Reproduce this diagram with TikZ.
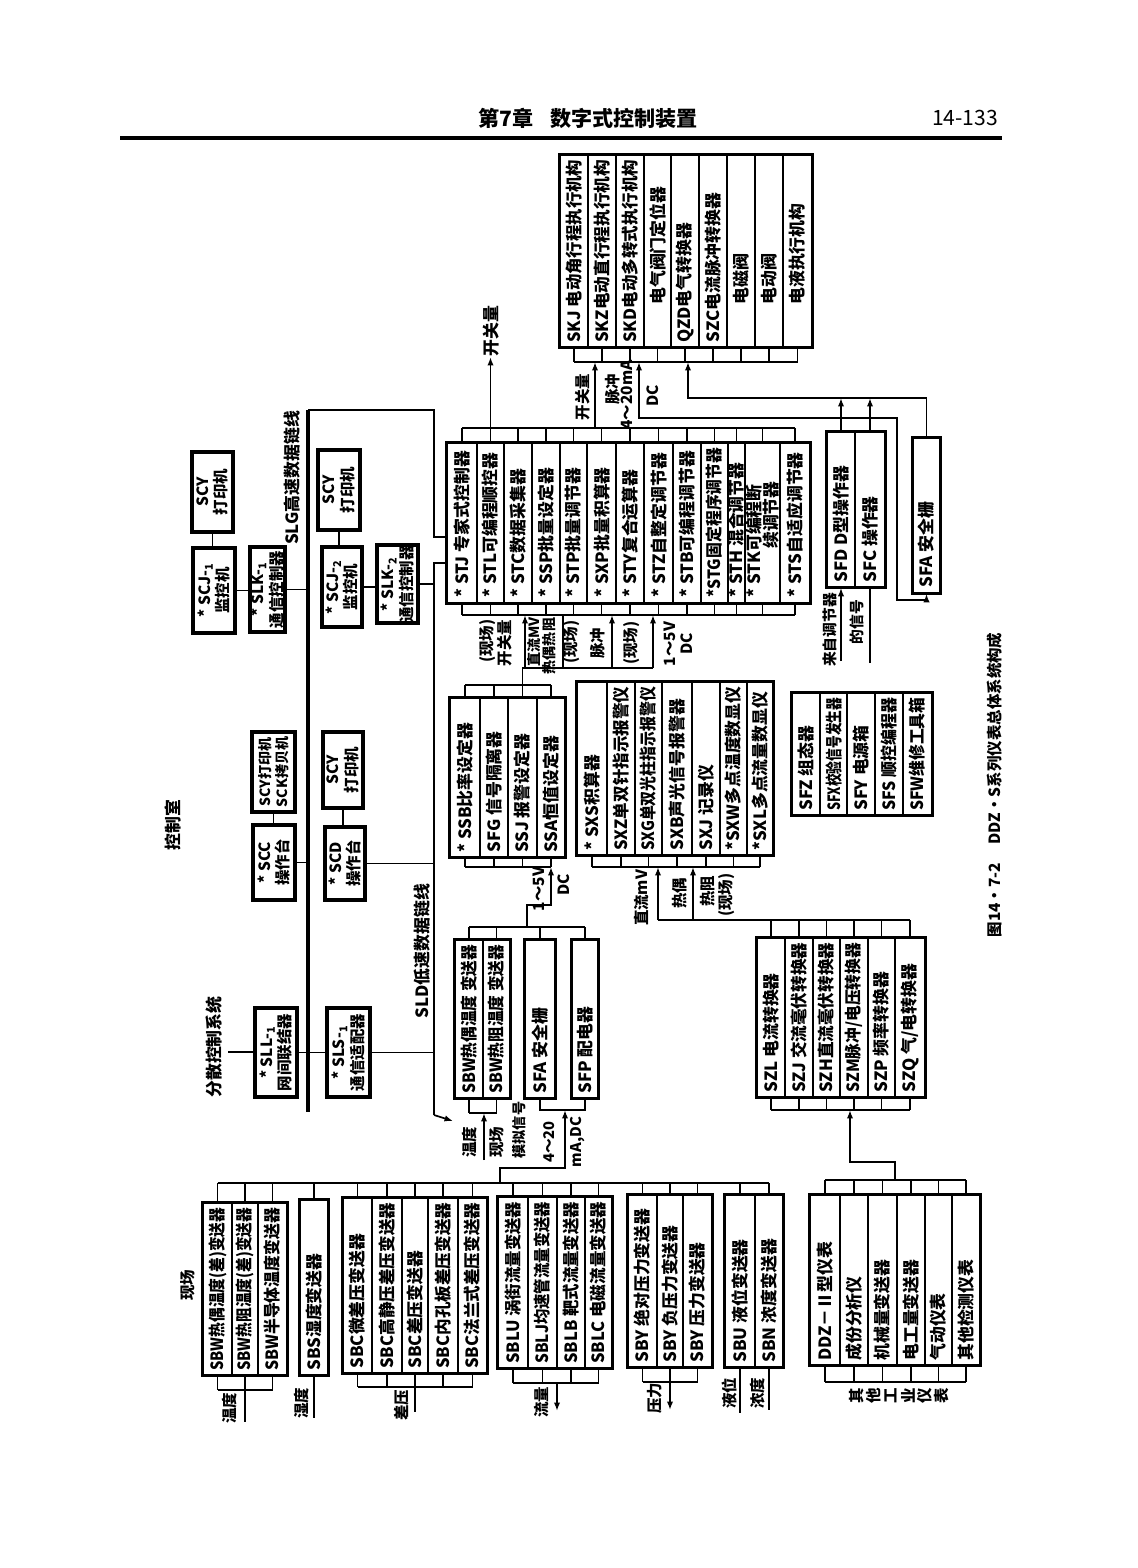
\documentclass[tikz,border=0pt]{standalone}
\usepackage{fontspec}
\setmainfont{Noto Sans CJK SC}
\usepackage{graphicx}
\usetikzlibrary{arrows.meta,fit}
\newsavebox\fitbox
\newlength\fitlen
\newcommand\fitt[2]{\fitlen=0.25mm\relax\multiply\fitlen by \numexpr#1\relax\sbox\fitbox{#2}\ifdim\wd\fitbox>\fitlen\resizebox{\fitlen}{\height}{#2}\else\usebox\fitbox\fi}
\newcommand\colx[7]{%
  \node[colbox,fit={(#2,#4) (#3,#5)}] (#1) {};
  \node[coltext] (#1-t) at ({(#2+#3)/2},#6) {\fitt{#6-#4-5}{#7}};}
\newcommand\twobox[6]{%
  \node[tbox,fit={(#2,#3) (#4,#5)}] (#1) {};
  \node[tbtext] (#1-t) at (#1.center) {#6};}
\newcommand\ticks[3]{\foreach \n in {#1}{\draw[ln] (\n.#2) -- (\n.#2 |- #3);}}
\tikzset{
  ln/.style={line width=1.2pt},
  arr/.style={-{Latex[length=6pt,width=4.5pt]}},
  colbox/.style={draw,line width=1.2pt,inner sep=0pt,rectangle},
  grp/.style={draw,line width=2.2pt,inner sep=0pt,rectangle},
  tbox/.style={draw,line width=2.2pt,inner sep=0pt,rectangle},
  coltext/.style={rotate=90,anchor=west,inner sep=0pt,font=\fontsize{12}{13}\selectfont\bfseries},
  tbtext/.style={rotate=90,align=center,inner sep=0pt,font=\fontsize{11}{13}\selectfont\bfseries},
  lab/.style={rotate=90,inner sep=0pt,font=\fontsize{#1}{#1}\selectfont\bfseries},
  lab/.default=11,
  slg/.style={line width=2.6pt},
  sld/.style={line width=1.9pt}
}
\begin{document}
\begin{tikzpicture}[x=0.25mm,y=-0.25mm]
\useasboundingbox (0,0) rectangle (1138,1568);
\fill[white] (0,0) rectangle (1138,1568);
% header
\node[font=\fontsize{15}{15}\selectfont\bfseries] (hd) at (588,118) {第7章\hspace{0.8em}数字式控制装置};
\node[font=\fontsize{15}{15}\selectfont] (pg) at (965,118) {14-133};
\draw[line width=2.2pt] (120,138) -- (1002,138);
% ---------- actuators ----------
\colx{a1}{560}{588}{155}{347}{343}{SKJ 电动角行程执行机构}
\colx{a2}{588}{616}{155}{347}{343}{SKZ电动直行程执行机构}
\colx{a3}{616}{644}{155}{347}{343}{SKD电动多转式执行机构}
\colx{a4}{644}{671}{155}{347}{305}{电气阀门定位器}
\colx{a5}{671}{699}{155}{347}{343}{QZD电气转换器}
\colx{a6}{699}{727}{155}{347}{343}{SZC电流脉冲转换器}
\colx{a7}{727}{755}{155}{347}{305}{电磁阀}
\colx{a8}{755}{783}{155}{347}{305}{电动阀}
\colx{a9}{783}{812}{155}{347}{305}{电液执行机构}
\node[grp,fit=(a1)(a9)] (gA) {};
\coordinate (actc) at (0,362);
\ticks{a1,a2,a3,a4,a5,a6,a7,a8,a9}{south}{actc}
\draw[ln] (a1.south |- actc) -- (a9.south |- actc);
% ---------- ST controllers ----------
\colx{st1}{447}{477}{443}{603}{598}{* STJ 专家式控制器}
\colx{st2}{477}{504}{443}{603}{598}{* STL可编程顺控器}
\colx{st3}{504}{532}{443}{603}{598}{* STC数据采集器}
\colx{st4}{532}{560}{443}{603}{598}{* SSP批量设定器}
\colx{st5}{560}{587}{443}{603}{598}{* STP批量调节器}
\colx{st6}{587}{616}{443}{603}{598}{* SXP批量积算器}
\colx{st7}{616}{644}{443}{603}{598}{* STY复合运算器}
\colx{st8}{644}{673}{443}{603}{598}{* STZ自整定调节器}
\colx{st9}{673}{701}{443}{603}{598}{* STB可编程调节器}
\colx{st10}{701}{728}{443}{603}{598}{*STG固定程序调节器}
\colx{st11}{728}{745}{443}{603}{598}{* STH 混合调节器}
\node[colbox,fit={(745,443) (780,603)}] (st12) {};
\node[coltext] (st12-t) at (754,598) {\fitt{598-443-5}{* STK可编程断}};
\node[coltext,anchor=east] (st12-u) at (771,481) {续调节器};
\colx{st13}{780}{810}{443}{603}{598}{* STS自适应调节器}
\node[grp,fit=(st1)(st13)] (gST) {};
\coordinate (sttop) at (0,428);
\coordinate (stbot) at (0,615);
\ticks{st1,st2,st3,st4,st5,st6,st7,st8,st9,st10,st11,st12,st13}{north}{sttop}
\ticks{st1,st2,st3,st4,st5,st6,st7,st8,st9,st10,st11,st12,st13}{south}{stbot}
\draw[ln] (st1.north |- sttop) -- (st13.north |- sttop);
\draw[ln] (st1.south |- stbot) -- (st13.south |- stbot);
% ST outputs
\draw[ln,arr] (st2.north |- sttop) -- (st2.north |- 0,357);
\node[lab=12] (kg0) at (491,331) {开关量};
\draw[ln,arr] (595,428) -- (595,362);
\node[lab] (kg1) at (583,397) {开关量};
\node[lab] (mc1) at (613,389) {脉冲};
\node[lab] (ma1) at (627,395) {4～20mA};
\node[lab] (dc1) at (653,396) {DC};
% SFD / SFC / SFA
\colx{sfd}{827}{855}{432}{587}{583}{SFD D型操作器}
\colx{sfc}{855}{885}{432}{587}{583}{SFC 操作器}
\node[grp,fit=(sfd)(sfc)] (gSFD) {};
\colx{sfar}{913}{940}{438}{593}{588}{SFA 安全栅}
\node[grp,fit=(sfar)] (gSFA) {};
\coordinate (p600) at (897,600);
\draw[ln,{Latex[length=6pt,width=4.5pt]}-{Latex[length=6pt,width=4.5pt]}] (sfar.south) -- (sfar.south |- p600) -- (p600) -- (897,418) -- (639,418) -- (639,362);
\draw[ln,arr] (sfar.north) -- (sfar.north |- 0,398) -- (688,398) -- (688,362);
\draw[ln,arr] (sfd.north) -- (sfd.north |- 0,398);
\draw[ln,arr] (sfc.north) -- (sfc.north |- 0,398);
\draw[ln,arr] (sfd.south |- 0,661) -- (sfd.south);
\draw[ln] (sfc.south |- 0,663) -- (sfc.south);
\node[lab=10.5] (lz1) at (830,630) {来自调节器};
\node[lab=10.5] (lz2) at (857,622) {的信号};
% SFZ group
\colx{sf1}{792}{820}{693}{815}{811}{SFZ 组态器}
\colx{sf2}{820}{847}{693}{815}{811}{SFX校验信号发生器}
\colx{sf3}{847}{875}{693}{815}{811}{SFY 电源箱}
\colx{sf4}{875}{903}{693}{815}{811}{SFS 顺控编程器}
\colx{sf5}{903}{932}{693}{815}{811}{SFW维修工具箱}
\node[grp,fit=(sf1)(sf5)] (gSFZ) {};
% caption
\node[rotate=90,font=\fontsize{11}{11}\selectfont\bfseries] (cap) at (995,785) {图14·7-2\hspace{1.2em}DDZ·S系列仪表总体系统构成};
% SSB group
\colx{ss1}{450}{480}{698}{857}{853}{* SSB比率设定器}
\colx{ss2}{480}{508}{698}{857}{853}{SFG 信号隔离器}
\colx{ss3}{508}{537}{698}{857}{853}{SSJ 报警设定器}
\colx{ss4}{537}{565}{698}{857}{853}{SSA恒值设定器}
\node[grp,fit=(ss1)(ss4)] (gSSB) {};
\coordinate (ssbtop) at (0,685);
\coordinate (ssbbot) at (0,867);
\ticks{ss1,ss2,ss3,ss4}{north}{ssbtop}
\ticks{ss1,ss2,ss3,ss4}{south}{ssbbot}
\draw[ln] (ss1.north |- ssbtop) -- (ss4.north |- ssbtop);
\draw[ln] (ss1.south |- ssbbot) -- (ss4.south |- ssbbot);
% SXS group
\colx{sx1}{577}{607}{682}{855}{851}{* SXS积算器}
\colx{sx2}{607}{635}{682}{855}{851}{SXZ单双针指示报警仪}
\colx{sx3}{635}{662}{682}{855}{851}{SXG单双光柱指示报警仪}
\colx{sx4}{662}{692}{682}{855}{851}{SXB声光信号报警器}
\colx{sx5}{692}{720}{682}{855}{851}{SXJ 记录仪}
\colx{sx6}{720}{747}{682}{855}{851}{*SXW多点温度数显仪}
\colx{sx7}{747}{773}{682}{855}{851}{*SXL多点流量数显仪}
\node[grp,fit=(sx1)(sx7)] (gSXS) {};
\coordinate (sxsbot) at (0,867);
\ticks{sx1,sx2,sx3,sx4,sx5,sx6,sx7}{south}{sxsbot}
\draw[ln] (sx1.south |- sxsbot) -- (sx7.south |- sxsbot);
% inputs below ST
\draw[ln] (ss3.north |- ssbtop) -- (ss3.north |- 0,668) -- (653,668);
\draw[ln,arr] (525,668) -- (525,615);
\draw[ln] (563,668) -- (563,615);
\draw[ln,arr] (612,668) -- (612,615);
\draw[ln,arr] (653,668) -- (653,615);
\node[lab] (x1) at (488,641) {(现场)};
\node[lab] (x2) at (505,643) {开关量};
\node[lab=10] (x3) at (534,642) {直流MV};
\node[lab=10] (x4) at (549,646) {热偶热阻};
\node[lab] (x5) at (572,642) {(现场)};
\node[lab] (x6) at (598,643) {脉冲};
\node[lab] (x7) at (632,643) {(现场)};
\node[lab] (x8) at (670,644) {1～5V};
\node[lab] (x9) at (687,644) {DC};
% SBW / SFA / SFP middle
\colx{bw1}{455}{483}{940}{1098}{1094}{SBW热偶温度 变送器}
\colx{bw2}{483}{510}{940}{1098}{1094}{SBW热阻温度 变送器}
\node[grp,fit=(bw1)(bw2)] (gBW) {};
\colx{sfa2}{525}{555}{940}{1098}{1094}{SFA 安全栅}
\node[grp,fit=(sfa2)] (gSFA2) {};
\colx{sfp}{572}{598}{940}{1098}{1094}{SFP 配电器}
\node[grp,fit=(sfp)] (gSFP) {};
\coordinate (bwtop) at (0,927);
\coordinate (bwbot) at (0,1113);
\ticks{bw1,bw2,sfa2,sfp}{north}{bwtop}
\draw[ln] (bw1.north |- bwtop) -- (sfp.north |- bwtop);
\draw[ln,arr] (527,927) -- (527,905) -- (ss4.south |- 0,905) -- (ss4.south |- ssbbot);
\node[lab] (v1) at (539,889) {1～5V};
\node[lab] (v2) at (564,885) {DC};
\ticks{bw1,bw2}{south}{bwbot}
\draw[ln] (bw1.south |- bwbot) -- (bw2.south |- bwbot);
\draw[ln,arr] (484,1160) -- (484,1113);
\node[lab] (t1) at (470,1142) {温度};
\node[lab] (t2) at (497,1142) {现场};
\draw[ln] (sfa2.south) -- (sfa2.south |- 0,1110) -- (sfp.south |- 0,1110) -- (sfp.south);
\draw[ln,arr] (500,1183) -- (500,1168) -- (565,1168) -- (565,1110);
\node[lab=10] (m1) at (519,1130) {模拟信号};
\node[lab=10.5] (m2) at (549,1142) {4～20};
\node[lab=10.5] (m3) at (578,1142) {mA,DC};
% SZL group
\colx{z1}{757}{785}{938}{1097}{1093}{SZL 电流转换器}
\colx{z2}{785}{813}{938}{1097}{1093}{SZJ 交流毫伏转换器}
\colx{z3}{813}{840}{938}{1097}{1093}{SZH直流毫伏转换器}
\colx{z4}{840}{868}{938}{1097}{1093}{SZM脉冲/电压转换器}
\colx{z5}{868}{895}{938}{1097}{1093}{SZP 频率转换器}
\colx{z6}{895}{925}{938}{1097}{1093}{SZQ 气/电转换器}
\node[grp,fit=(z1)(z6)] (gSZ) {};
\coordinate (szltop) at (0,920);
\coordinate (szlbot) at (0,1110);
\ticks{z1,z2,z3,z4,z5,z6}{north}{szltop}
\ticks{z1,z2,z3,z4,z5,z6}{south}{szlbot}
\draw[ln] (658,920) -- (z6.north |- szltop);
\draw[ln] (z1.south |- szlbot) -- (z6.south |- szlbot);
\draw[ln,arr] (658,920) -- (658,867);
\draw[ln,arr] (693,920) -- (693,867);
\node[lab] (h1) at (642,898) {直流mV};
\node[lab] (h2) at (680,893) {热偶};
\node[lab] (h3) at (708,891) {热阻};
\node[lab] (h4) at (727,895) {(现场)};
% ---------- control room ----------
\twobox{scy1}{192}{452}{233}{532}{SCY\\打印机}
\twobox{scj1}{193}{548}{235}{633}{* SCJ-\textsubscript{1}\\监控机}
\twobox{slk1}{250}{547}{285}{632}{* SLK-\textsubscript{1}\\通信控制器}
\twobox{scy2}{318}{450}{360}{530}{SCY\\打印机}
\twobox{scj2}{322}{547}{362}{627}{* SCJ-\textsubscript{2}\\监控机}
\twobox{slk2}{377}{545}{418}{623}{* SLK-\textsubscript{2}\\通信控制器}
\node[tbox,fit={(252,732) (295,812)}] (sck) {};
\node[tbtext,font=\fontsize{10}{12}\selectfont\bfseries] (sck-t) at (sck.center) {SCY打印机\\SCK拷贝机};
\twobox{scc}{253}{825}{295}{900}{* SCC\\操作台}
\twobox{scy3}{323}{732}{363}{808}{SCY\\打印机}
\twobox{scd}{325}{827}{365}{900}{* SCD\\操作台}
\twobox{sll}{255}{1008}{297}{1097}{* SLL-\textsubscript{1}\\网间联结器}
\twobox{sls}{327}{1008}{370}{1097}{* SLS-\textsubscript{1}\\通信适配器}
\coordinate (slgtop) at (308,410);
\coordinate (slgbot) at (308,1112);
\coordinate (sldx) at (434,563);
\draw[slg] (slgtop) -- (slgbot);
\draw[ln] (slgtop) -- (434,410) -- (434,537) -- (st1.west |- 0,537);
\draw[sld] (st1.west |- sldx) -- (sldx) -- (434,1115);
\draw[ln,arr] (434,1115) -- (453,1121);
\draw[ln] (scy1.south) -- (scy1.south |- scj1.north);
\draw[ln] (scj1.east) -- (scj1.east -| slk1.west);
\draw[ln] (slk1.east) -- (slk1.east -| slgtop);
\draw[ln] (scy2.south) -- (scy2.south |- scj2.north);
\draw[ln] (scj2.east) -- (scj2.east -| slk2.west);
\draw[ln] (slk2.east) -- (slk2.east -| sldx);
\draw[ln] (sck.south) -- (sck.south |- scc.north);
\draw[ln] (scc.east) -- (scc.east -| slgtop);
\draw[ln] (scy3.south) -- (scy3.south |- scd.north);
\draw[ln] (scd.east) -- (scd.east -| sldx);
\coordinate (dcs) at (228,1052);
\draw[ln] (dcs) -- (dcs -| sll.west);
\draw[ln] (sll.east) -- (sll.east -| sls.west);
\draw[ln] (sls.east) -- (sls.east -| sldx);
\node[lab=12] (slgl) at (292,478) {SLG高速数据链线};
\node[lab=12] (sldl) at (422,951) {SLD低速数据链线};
\node[lab=12] (kzs) at (173,825) {控制室};
\node[lab=12] (fskz) at (214,1047) {分散控制系统};
\node[lab=11] (xc) at (188,1285) {现场};
% ---------- field instruments ----------
\colx{w1}{203}{232}{1203}{1375}{1371}{SBW热偶温度(差)变送器}
\colx{w2}{232}{258}{1203}{1375}{1371}{SBW热阻温度(差)变送器}
\colx{w3}{258}{287}{1203}{1375}{1371}{SBW半导体温度变送器}
\node[grp,fit=(w1)(w3)] (gW) {};
\colx{sbs}{300}{328}{1200}{1375}{1371}{SBS湿度变送器}
\node[grp,fit=(sbs)] (gS) {};
\colx{c1}{343}{372}{1198}{1373}{1369}{SBC微差压变送器}
\colx{c2}{372}{402}{1198}{1373}{1369}{SBC高静压差压变送器}
\colx{c3}{402}{428}{1198}{1373}{1369}{SBC差压变送器}
\colx{c4}{428}{458}{1198}{1373}{1369}{SBC内孔板差压变送器}
\colx{c5}{458}{487}{1198}{1373}{1369}{SBC法兰式差压变送器}
\node[grp,fit=(c1)(c5)] (gC) {};
\colx{l1}{498}{528}{1197}{1368}{1364}{SBLU 涡街流量变送器}
\colx{l2}{528}{557}{1197}{1368}{1364}{SBLJ均速管流量变送器}
\colx{l3}{557}{585}{1197}{1368}{1364}{SBLB 靶式流量变送器}
\colx{l4}{585}{612}{1197}{1368}{1364}{SBLC 电磁流量变送器}
\node[grp,fit=(l1)(l4)] (gL) {};
\colx{y1}{628}{657}{1195}{1367}{1363}{SBY 绝对压力变送器}
\colx{y2}{657}{683}{1195}{1367}{1363}{SBY 负压力变送器}
\colx{y3}{683}{712}{1195}{1367}{1363}{SBY 压力变送器}
\node[grp,fit=(y1)(y3)] (gY) {};
\colx{u1}{725}{755}{1195}{1367}{1363}{SBU 液位变送器}
\colx{u2}{755}{783}{1195}{1367}{1363}{SBN 浓度变送器}
\node[grp,fit=(u1)(u2)] (gU) {};
\coordinate (bus) at (0,1183);
\ticks{w1,w2,w3,sbs,c1,c2,c3,c4,c5,l1,l2,l3,l4,y1,y2,y3,u1,u2}{north}{bus}
\draw[ln] (w1.north |- bus) -- (u2.north |- bus);
\coordinate (wbot) at (0,1390);
\coordinate (cbot) at (0,1387);
\coordinate (lbot) at (0,1383);
\coordinate (ybot) at (0,1382);
\ticks{w1,w2,w3}{south}{wbot}
\draw[ln] (w1.south |- wbot) -- (w3.south |- wbot);
\draw[ln] (w2.south |- wbot) -- (w2.south |- 0,1422);
\draw[ln] (sbs.south) -- (sbs.south |- 0,1418);
\ticks{c1,c2,c3,c4,c5}{south}{cbot}
\draw[ln] (c1.south |- cbot) -- (c5.south |- cbot);
\draw[ln] (c3.south |- cbot) -- (c3.south |- 0,1412);
\ticks{l1,l2,l3,l4}{south}{lbot}
\draw[ln] (l1.south |- lbot) -- (l4.south |- lbot);
\draw[ln,arr] (557,1383) -- (557,1411);
\ticks{y1,y2,y3}{south}{ybot}
\draw[ln] (y1.south |- ybot) -- (y3.south |- ybot);
\draw[ln,arr] (y2.south |- ybot) -- (y2.south |- 0,1410);
\draw[ln] (u1.south) -- (u1.south |- 0,1413);
\draw[ln] (u2.south) -- (u2.south |- 0,1410);
\node[lab] (f1) at (230,1408) {温度};
\node[lab] (f2) at (302,1403) {湿度};
\node[lab] (f3) at (402,1405) {差压};
\node[lab] (f4) at (542,1402) {流量};
\node[lab] (f5) at (655,1398) {压力};
\node[lab] (f6) at (729,1393) {液位};
\node[lab] (f7) at (758,1393) {浓度};
% DDZ group
\colx{d1}{810}{840}{1195}{1365}{1361}{DDZ－Ⅱ型仪表}
\colx{d2}{840}{868}{1195}{1365}{1361}{成份分析仪}
\colx{d3}{868}{897}{1195}{1365}{1361}{机械量变送器}
\colx{d4}{897}{925}{1195}{1365}{1361}{电工量变送器}
\colx{d5}{925}{952}{1195}{1365}{1361}{气动仪表}
\colx{d6}{952}{980}{1195}{1365}{1361}{其他检测仪表}
\node[grp,fit=(d1)(d6)] (gD) {};
\coordinate (ddztop) at (0,1180);
\coordinate (dbot) at (0,1382);
\ticks{d1,d2,d3,d4,d5,d6}{north}{ddztop}
\ticks{d1,d2,d3,d4,d5,d6}{south}{dbot}
\draw[ln] (d1.north |- ddztop) -- (d6.north |- ddztop);
\draw[ln] (d1.south |- dbot) -- (d6.south |- dbot);
\draw[ln,arr] (895,1180) -- (895,1162) -- (850,1162) -- (850,1110);
\foreach \c [count=\i] in {其,他,工,业,仪,表} \node[lab] (qt\i) at ({840+17*\i},1396) {\c};
\end{tikzpicture}
\end{document}
